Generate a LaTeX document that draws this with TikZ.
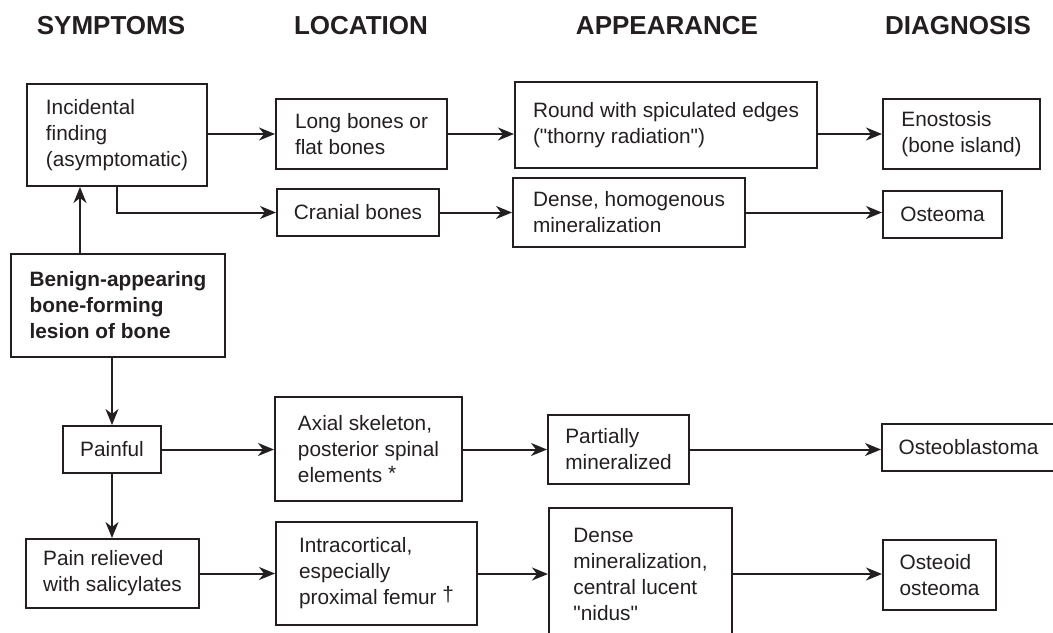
\documentclass[tikz,border=0pt]{standalone}
\usepackage{fontspec}
\setmainfont{Liberation Sans}
\usepackage{tikz}
\usetikzlibrary{arrows.meta}
\definecolor{ink}{HTML}{231F20}
\tikzstyle{bx}=[%
      rectangle, draw=ink, line width=1pt, text=ink, fill=none,
      align=left, inner sep=0pt, font=\fontsize{10.4}{13}\selectfont
]
\tikzstyle{bxbold}=[%
      bx, line width=1.4pt, font=\fontsize{10.4}{13}\selectfont\bfseries
]
\tikzstyle{hd}=[%
      text=ink, inner sep=0pt, font=\fontsize{13}{15}\selectfont\bfseries
]

\begin{document}
\begin{tikzpicture}[x=0.5pt, y=-0.5pt,
    line width=1pt, draw=ink,
    ->, >={Stealth[length=8pt,width=6.5pt,inset=2.5pt]}
  ]
    \useasboundingbox (0,0) rectangle (1053,632);

    % column heads
    \node[hd] (hsym) at (111,26) {SYMPTOMS};
    \node[hd] (hloc) at (361,26) {LOCATION};
    \node[hd] (happ) at (667,26) {APPEARANCE};
    \node[hd] (hdia) at (958,26) {DIAGNOSIS};

    % symptoms
    \node[bx, minimum width=90pt, minimum height=51pt]       (inc)     at (117,135)     {Incidental\\finding\\(asymptomatic)};
    \node[bxbold, minimum width=107pt, minimum height=51.5pt] (benign) at (118,305.5)   {Benign-appearing\\bone-forming\\lesion of bone};
    \node[bx, minimum width=49pt, minimum height=23.5pt]     (painful) at (112,449.5)   {Painful};
    \node[bx, minimum width=86.5pt, minimum height=34.5pt]   (relief)  at (112.5,573.5) {Pain relieved\\with salicylates};

    % location
    \node[bx, minimum width=85.5pt, minimum height=35pt]   (long)    at (361.5,134)   {Long bones or\\flat bones};
    \node[bx, minimum width=81pt, minimum height=23.5pt]   (cranial) at (358,212.5)   {Cranial bones};
    \node[bx, minimum width=93.5pt, minimum height=52pt]   (axial)   at (368.5,449)   {Axial skeleton,\\posterior spinal\\elements \raisebox{1pt}{*}};
    \node[bx, minimum width=100.5pt, minimum height=51.5pt] (intra)  at (376.5,573.5) {Intracortical,\\especially\\proximal femur \raisebox{1.5pt}{†}};

    % appearance
    \node[bx, minimum width=151pt, minimum height=43pt]    (round)    at (666,125)     {Round with spiculated edges\\(\textquotedbl thorny radiation\textquotedbl)};
    \node[bx, minimum width=116pt, minimum height=34.5pt]  (densehom) at (629,212.5)   {Dense, homogenous\\mineralization};
    \node[bx, minimum width=70.5pt, minimum height=34.5pt] (partial)  at (618.5,449.5) {Partially\\mineralized};
    \node[bx, minimum width=91.5pt, minimum height=66pt]   (densemin) at (640.5,574)   {Dense\\mineralization,\\central lucent\\\textquotedbl nidus\textquotedbl};

    % diagnosis
    \node[bx, minimum width=78.5pt, minimum height=35pt]   (enost)   at (961.5,134)   {Enostosis\\(bone island)};
    \node[bx, minimum width=59.5pt, minimum height=23.5pt] (osteoma) at (942.5,214.5) {Osteoma};
    \node[bx, minimum width=86.5pt, minimum height=23.5pt] (blast)   at (968.5,447.5) {Osteoblastoma};
    \node[bx, minimum width=56.5pt, minimum height=35pt]   (osteoid) at (939.5,575)   {Osteoid\\osteoma};

    % upper branch
    \draw ([xshift=-19pt]benign.north) -- ([xshift=-19pt]benign.north |- inc.south);
    \draw (inc.east |- long.west) -- (long.west);
    \draw (long.east) -- (long.east -| round.west);
    \draw (round.east |- enost.west) -- (enost.west);
    \draw (inc.south) |- (cranial.west);
    \draw (cranial.east) -- (cranial.east -| densehom.west);
    \draw (densehom.east) -- (densehom.east -| osteoma.west);

    % lower branch
    \draw (benign.south -| painful.north) -- (painful.north);
    \draw (painful.east) -- (painful.east -| axial.west);
    \draw (axial.east |- partial.west) -- (partial.west);
    \draw (partial.east) -- (partial.east -| blast.west);
    \draw (painful.south) -- (painful.south |- relief.north);
    \draw (relief.east) -- (relief.east -| intra.west);
    \draw (intra.east |- densemin.west) -- (densemin.west);
    \draw (densemin.east) -- (densemin.east -| osteoid.west);

  \end{tikzpicture}
\end{document}
